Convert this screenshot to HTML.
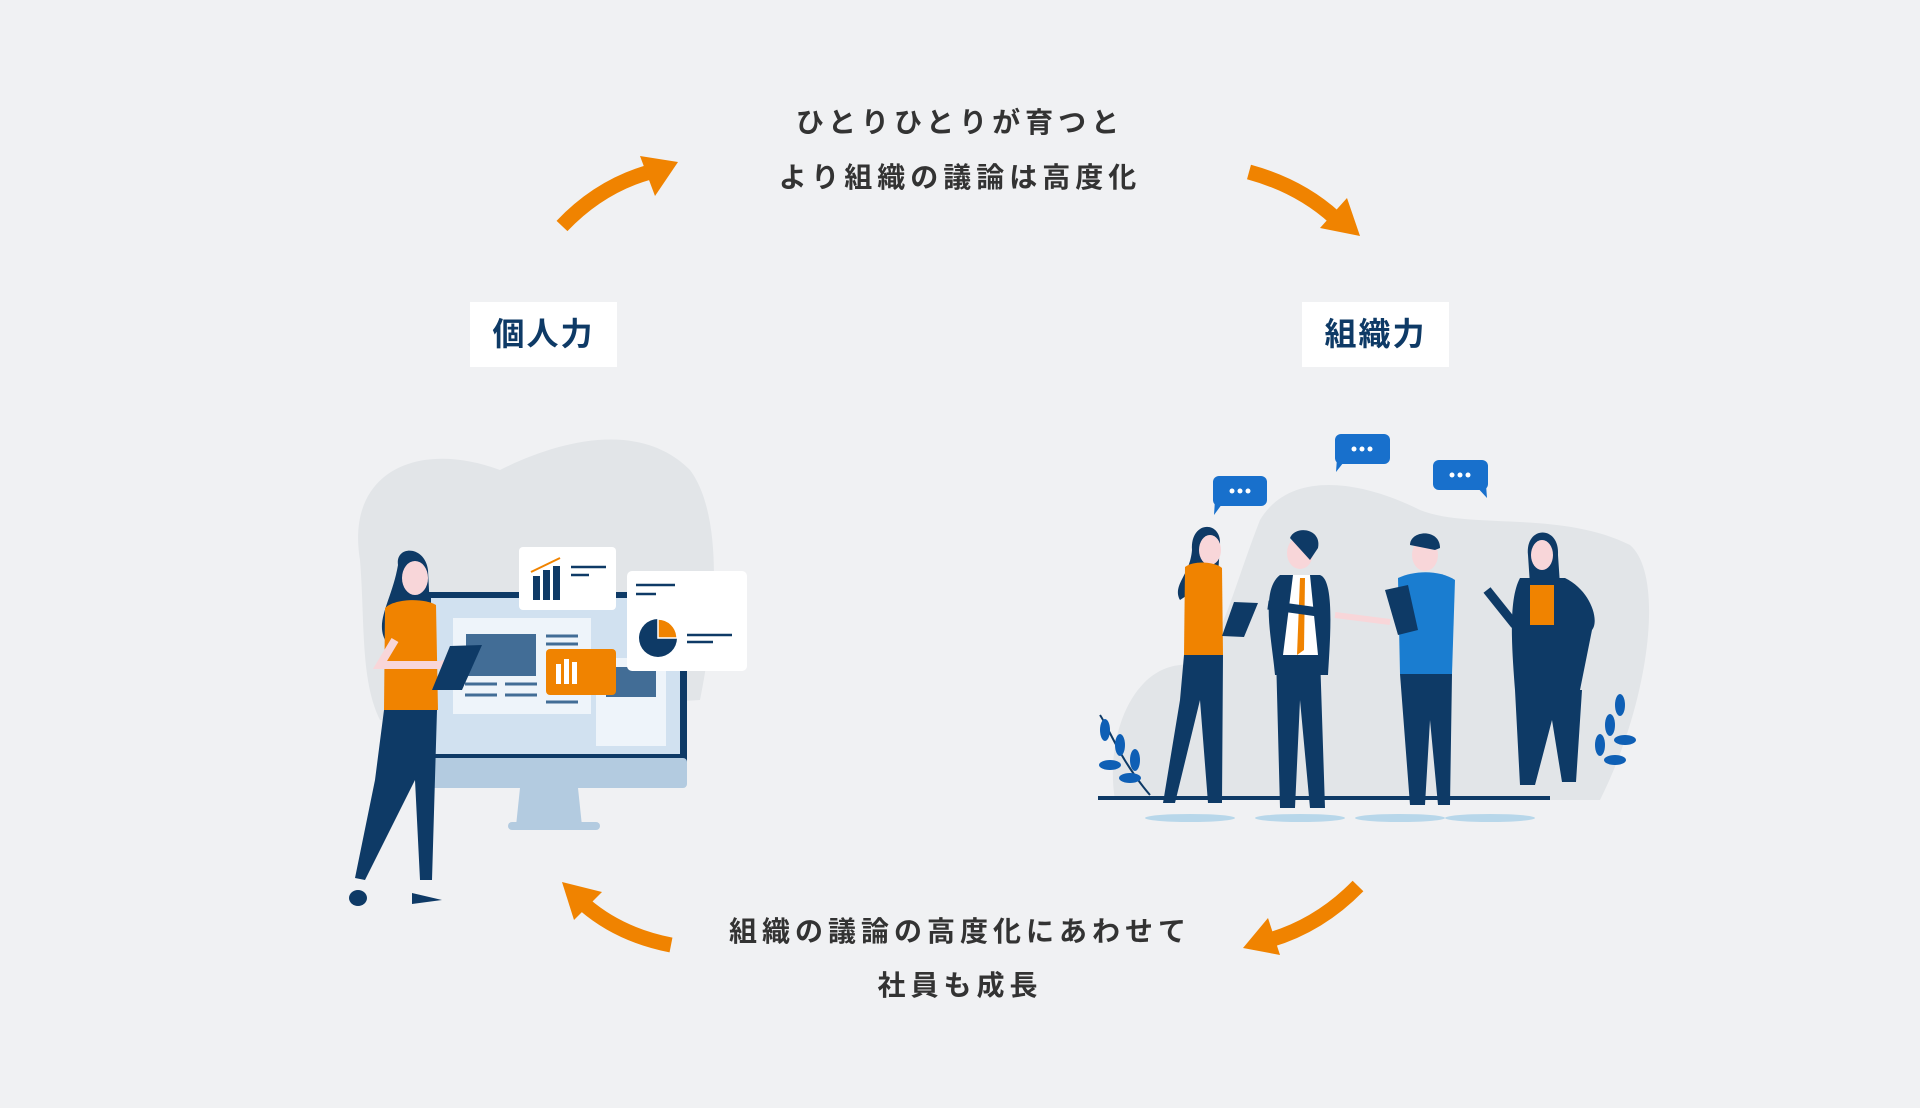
<!DOCTYPE html>
<html><head><meta charset="utf-8"><style>
html,body{margin:0;padding:0;width:1920px;height:1108px;background:#f0f1f3;overflow:hidden}
.t{position:absolute;left:0;width:1920px;text-align:center;font-family:"Liberation Sans","Noto Sans CJK JP",sans-serif;font-weight:bold;font-size:28px;letter-spacing:5px;color:#333;line-height:1}
.lb{position:absolute;top:302px;width:147px;height:65px;background:#fff;font-family:"Liberation Sans","Noto Sans CJK JP",sans-serif;font-weight:bold;font-size:32px;color:#0e3a66;text-align:center;line-height:65px;letter-spacing:2px}
svg{position:absolute;left:0;top:0}
</style></head><body>
<svg width="1920" height="1108" viewBox="0 0 1920 1108">
<g fill="none" stroke="#f08300" stroke-width="15" stroke-linecap="butt">
<path d="M562,226 Q600,186 650,172"/>
<path d="M1249,172 Q1300,186 1335,218"/>
<path d="M1358,886 Q1320,925 1270,940"/>
<path d="M671,945 Q620,935 585,905"/>
</g>
<g fill="#f08300">
<polygon points="678,162 640,156 655,196"/>
<polygon points="1360,236 1347,198 1320,228"/>
<polygon points="1243,948 1280,955 1268,918"/>
<polygon points="562,882 574,920 602,892"/>
</g>
<!-- left illustration -->
<path d="M360,560 C345,470 420,440 500,470 C560,440 640,420 690,470 C720,510 720,600 700,700 L380,720 C360,680 365,620 360,560Z" fill="#e2e5e8"/>
<rect x="424" y="592" width="263" height="172" rx="3" fill="#0e3a66"/>
<rect x="431" y="598" width="249" height="156" fill="#d1e1f0"/>
<rect x="424" y="758" width="263" height="30" rx="4" fill="#b3cbe0"/>
<polygon points="520,788 578,788 582,826 516,826" fill="#b3cbe0"/>
<rect x="508" y="822" width="92" height="8" rx="4" fill="#b3cbe0"/>
<rect x="453" y="618" width="138" height="96" fill="#eef4fa"/>
<rect x="466" y="634" width="70" height="42" fill="#426d96"/>
<g stroke="#426d96" stroke-width="3"><line x1="546" y1="636" x2="578" y2="636"/><line x1="546" y1="644" x2="578" y2="644"/><line x1="465" y1="684" x2="497" y2="684"/><line x1="505" y1="684" x2="537" y2="684"/><line x1="465" y1="695" x2="497" y2="695"/><line x1="505" y1="695" x2="537" y2="695"/><line x1="546" y1="702" x2="578" y2="702"/></g>
<rect x="596" y="658" width="70" height="88" fill="#eef4fa"/>
<rect x="606" y="667" width="50" height="30" fill="#426d96"/>
<rect x="546" y="649" width="70" height="46" rx="4" fill="#f08300"/>
<g fill="#fff"><rect x="556" y="664" width="5" height="20"/><rect x="564" y="659" width="5" height="25"/><rect x="572" y="662" width="5" height="22"/></g>
<rect x="519" y="547" width="97" height="63" rx="4" fill="#fff"/>
<g fill="#0e3a66"><rect x="533" y="576" width="7" height="24"/><rect x="543" y="570" width="7" height="30"/><rect x="553" y="566" width="7" height="34"/></g>
<path d="M531,572 L560,558" stroke="#f08300" stroke-width="2"/>
<g stroke="#0e3a66" stroke-width="2.5"><line x1="571" y1="567" x2="606" y2="567"/><line x1="571" y1="575" x2="589" y2="575"/></g>
<rect x="627" y="571" width="120" height="100" rx="5" fill="#fff"/>
<circle cx="658" cy="638" r="19" fill="#0e3a66"/><path d="M658,638 L658,619 A19,19 0 0 1 677,638Z" fill="#f08300" stroke="#fff" stroke-width="1.5"/>
<g stroke="#0e3a66" stroke-width="2.5"><line x1="636" y1="585" x2="675" y2="585"/><line x1="636" y1="594" x2="656" y2="594"/><line x1="687" y1="635" x2="732" y2="635"/><line x1="687" y1="642" x2="713" y2="642"/></g>
<!-- woman left -->
<path d="M398,565 C395,545 425,545 428,570 L430,610 L385,640 C375,620 392,600 398,565Z" fill="#0e3a66"/>
<ellipse cx="415" cy="578" rx="13" ry="17" fill="#f8d6d9"/>
<path d="M385,608 C395,598 425,598 436,605 L438,710 L384,710Z" fill="#f08300"/>
<path d="M395,640 L380,665 L440,665 L460,660" fill="none" stroke="#f8d6d9" stroke-width="8"/>
<polygon points="450,646 482,645 462,690 432,690" fill="#0e3a66"/>
<path d="M384,710 L437,710 L432,880 L420,880 L415,780 L365,880 L355,878 L375,780Z" fill="#0e3a66"/>
<ellipse cx="358" cy="898" rx="9" ry="8" fill="#0e3a66"/><path d="M412,893 L442,900 L412,904Z" fill="#0e3a66"/>
<!-- right illustration -->
<path d="M1115,800 C1105,740 1130,670 1180,665 C1220,660 1225,610 1260,520 C1290,470 1360,480 1420,510 C1470,530 1560,510 1630,545 C1665,575 1650,700 1600,800Z" fill="#e2e5e8"/>
<line x1="1098" y1="798" x2="1550" y2="798" stroke="#0e3a66" stroke-width="4"/>
<g fill="#b8d7ea"><ellipse cx="1190" cy="818" rx="45" ry="4"/><ellipse cx="1300" cy="818" rx="45" ry="4"/><ellipse cx="1400" cy="818" rx="45" ry="4"/><ellipse cx="1490" cy="818" rx="45" ry="4"/></g>
<g fill="#1870cc">
<rect x="1213" y="476" width="54" height="30" rx="6"/><polygon points="1215,500 1225,500 1214,515"/>
<rect x="1335" y="434" width="55" height="30" rx="6"/><polygon points="1337,458 1347,458 1336,472"/>
<rect x="1433" y="460" width="55" height="30" rx="6"/><polygon points="1475,485 1486,485 1487,498"/>
<g fill="#0e5fb5"><path d="M1150,795 C1120,760 1110,730 1100,715" fill="none" stroke="#0e3a66" stroke-width="2"/><ellipse cx="1105" cy="730" rx="5" ry="11"/><ellipse cx="1120" cy="745" rx="5" ry="11"/><ellipse cx="1135" cy="760" rx="5" ry="11"/><ellipse cx="1110" cy="765" rx="11" ry="5"/><ellipse cx="1130" cy="778" rx="11" ry="5"/>
<ellipse cx="1620" cy="705" rx="5" ry="11"/><ellipse cx="1610" cy="725" rx="5" ry="11"/><ellipse cx="1600" cy="745" rx="5" ry="11"/><ellipse cx="1625" cy="740" rx="11" ry="5"/><ellipse cx="1615" cy="760" rx="11" ry="5"/></g>
</g>
<g fill="#fff"><circle cx="1232" cy="491" r="2.5"/><circle cx="1240" cy="491" r="2.5"/><circle cx="1248" cy="491" r="2.5"/><circle cx="1354" cy="449" r="2.5"/><circle cx="1362" cy="449" r="2.5"/><circle cx="1370" cy="449" r="2.5"/><circle cx="1452" cy="475" r="2.5"/><circle cx="1460" cy="475" r="2.5"/><circle cx="1468" cy="475" r="2.5"/></g>
<!-- person1 -->
<path d="M1192,550 C1190,520 1222,520 1220,545 L1218,575 L1180,600 C1172,585 1190,575 1192,550Z" fill="#0e3a66"/>
<ellipse cx="1210" cy="550" rx="11" ry="15" fill="#f8d6d9"/>
<path d="M1185,567 C1195,560 1215,562 1222,568 L1223,655 L1184,655Z" fill="#f08300"/>
<polygon points="1234,602 1258,603 1244,637 1222,636" fill="#0e3a66"/>
<path d="M1184,655 L1223,655 L1222,803 L1208,803 L1200,700 L1175,803 L1163,803 L1180,700Z" fill="#0e3a66"/>
<!-- person2 -->
<ellipse cx="1300" cy="553" rx="13" ry="16" fill="#f8d6d9"/><path d="M1290,538 C1295,525 1322,528 1318,548 L1310,560 Z" fill="#0e3a66"/>
<path d="M1280,575 L1320,575 C1335,580 1330,640 1328,675 L1275,675 C1272,640 1260,590 1280,575Z" fill="#0e3a66"/>
<polygon points="1293,575 1310,575 1318,655 1283,655" fill="#fff"/>
<polygon points="1300,578 1305,578 1304,650 1297,655" fill="#f08300"/>
<path d="M1268,605 L1318,612" stroke="#0e3a66" stroke-width="9"/>
<path d="M1276,655 L1320,655 L1325,808 L1310,808 L1300,700 L1295,808 L1280,808Z" fill="#0e3a66"/>
<!-- person3 -->
<ellipse cx="1425" cy="555" rx="13" ry="16" fill="#f8d6d9"/><path d="M1410,545 C1410,530 1440,528 1440,548 L1435,550Z" fill="#0e3a66"/>
<path d="M1398,578 C1415,570 1440,570 1455,580 L1452,674 L1400,674Z" fill="#1a7dd0"/>
<path d="M1335,615 L1390,622" stroke="#f8d6d9" stroke-width="6"/>
<polygon points="1385,590 1408,585 1418,630 1398,635" fill="#0e3a66"/>
<path d="M1400,674 L1452,674 L1450,805 L1438,805 L1430,720 L1425,805 L1410,805Z" fill="#0e3a66"/>
<!-- person4 -->
<path d="M1528,555 C1525,525 1560,525 1558,555 L1560,585 L1530,585Z" fill="#0e3a66"/>
<ellipse cx="1542" cy="555" rx="11" ry="15" fill="#f8d6d9"/>
<path d="M1520,578 L1565,578 C1590,590 1600,620 1592,630 L1580,690 L1515,690 C1512,650 1508,600 1520,578Z" fill="#0e3a66"/>
<rect x="1530" y="585" width="24" height="40" fill="#f08300"/>
<path d="M1487,590 L1515,625" stroke="#0e3a66" stroke-width="9"/>
<path d="M1515,690 L1582,690 L1576,782 L1562,782 L1552,720 L1535,785 L1520,785Z" fill="#0e3a66"/>
</svg>
<div class="t" style="top:109px">ひとりひとりが育つと</div>
<div class="t" style="top:164px">より組織の議論は高度化</div>
<div class="t" style="top:918px">組織の議論の高度化にあわせて</div>
<div class="t" style="top:972px">社員も成長</div>
<div class="lb" style="left:470px">個人力</div>
<div class="lb" style="left:1302px">組織力</div>
</body></html>
